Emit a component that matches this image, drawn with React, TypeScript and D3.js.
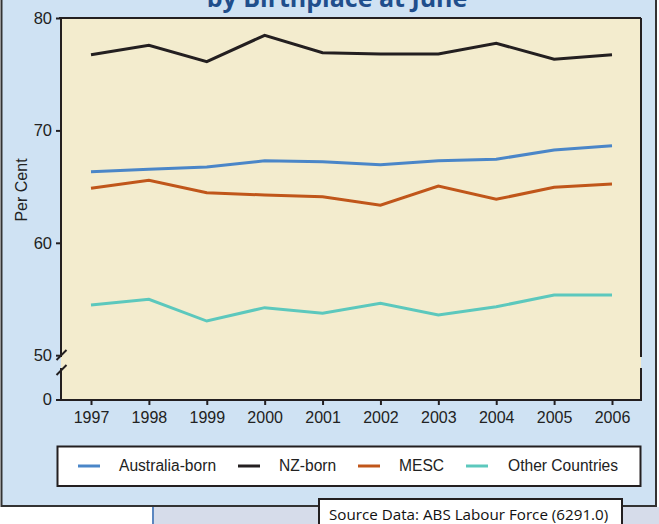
import React, { useEffect, useRef } from "react";
import * as d3 from "d3";

const years = ["1997", "1998", "1999", "2000", "2001", "2002", "2003", "2004", "2005", "2006"];
const australiaBorn = [66.33, 66.54, 66.74, 67.3, 67.21, 66.95, 67.3, 67.43, 68.26, 68.64];
const nzBorn = [76.73, 77.57, 76.11, 78.46, 76.91, 76.8, 76.8, 77.75, 76.33, 76.73];
const mesc = [64.85, 65.56, 64.46, 64.25, 64.1, 63.34, 65.05, 63.87, 64.94, 65.23];
const otherCountries = [54.47, 54.97, 53.04, 54.23, 53.73, 54.62, 53.58, 54.31, 55.36, 55.36];
const yTicks = [50, 60, 70, 80];
const seriesNames = ["Australia-born", "NZ-born", "MESC", "Other Countries"];
const seriesColors = ["#4a86c8", "#231f20", "#c0561a", "#5cc8bd"];
const title = "by Birthplace at June";
const yLabel = "Per Cent";
const sourceText = "Source Data: ABS Labour Force (6291.0)";

const W = 659;
const H = 524;
const FONT = "'Liberation Sans', Arial, sans-serif";
const DARK = "#231f20";

export default function App() {
  const ref = useRef<SVGSVGElement | null>(null);

  useEffect(() => {
    const svg = d3.select(ref.current);
    svg.selectAll("*").remove();

    const left = 61, right = 641, top = 18, bottom = 400;
    const x = d3.scalePoint<string>().domain(years).range([91, 612]);
    const y = d3.scaleLinear().domain([50, 80]).range([355.2, 18]);
    const breakTop = 357, breakBot = 368;

    // lower strip
    svg.append("rect").attr("x", 0).attr("y", 0).attr("width", W).attr("height", H).attr("fill", "#ffffff");
    svg.append("rect").attr("x", 154).attr("y", 507).attr("width", W - 154).attr("height", H - 507).attr("fill", "#d6dcea");
    svg.append("line").attr("x1", 153).attr("x2", 153).attr("y1", 507).attr("y2", H).attr("stroke", "#5b86c0").attr("stroke-width", 2);

    // outer panel
    svg.append("rect").attr("x", 1.5).attr("y", -5).attr("width", 654.5).attr("height", 511)
      .attr("fill", "#cfe2f3").attr("stroke", "#333").attr("stroke-width", 2);

    // title
    svg.append("text").attr("x", 337).attr("y", 7).attr("text-anchor", "middle")
      .attr("font-family", "'Open Sans', sans-serif").attr("font-weight", 700).attr("font-size", 25)
      .attr("fill", "#1f4e8c").text(title);

    // plot area
    svg.append("rect").attr("x", left).attr("y", top).attr("width", right - left).attr("height", bottom - top)
      .attr("fill", "#f3ecce");

    // borders
    const g = svg.append("g").attr("stroke", DARK).attr("stroke-width", 2).attr("fill", "none");
    g.append("line").attr("x1", 59).attr("x2", right).attr("y1", top).attr("y2", top);
    g.append("line").attr("x1", left).attr("x2", left).attr("y1", top).attr("y2", breakTop);
    g.append("line").attr("x1", left).attr("x2", left).attr("y1", breakBot).attr("y2", bottom);
    g.append("line").attr("x1", right).attr("x2", right).attr("y1", top).attr("y2", breakTop);
    g.append("line").attr("x1", right).attr("x2", right).attr("y1", breakBot).attr("y2", bottom + 1);
    g.append("line").attr("x1", 56).attr("x2", right + 1).attr("y1", bottom).attr("y2", bottom);
    // break slashes
    g.append("line").attr("x1", 56.5).attr("x2", 66.5).attr("y1", 360).attr("y2", 350);
    g.append("line").attr("x1", 56.5).attr("x2", 66.5).attr("y1", 375).attr("y2", 365);

    // y axis
    const yAxis = d3.axisLeft(y).tickValues(yTicks).tickSize(5).tickPadding(4).tickFormat(d3.format("d"));
    const ya = svg.append("g").attr("transform", `translate(${left},0)`).call(yAxis);
    ya.select(".domain").remove();
    ya.selectAll(".tick line").attr("stroke", DARK).attr("stroke-width", 2);
    ya.selectAll(".tick text").attr("font-family", FONT).attr("font-size", 16.5).attr("fill", "#222");
    // zero tick
    svg.append("text").attr("x", 52).attr("y", bottom).attr("dy", "0.32em").attr("text-anchor", "end")
      .attr("font-family", FONT).attr("font-size", 16.5).attr("fill", "#222").text("0");

    // x axis
    const xAxis = d3.axisBottom(x).tickSize(5).tickPadding(7);
    const xa = svg.append("g").attr("transform", `translate(0,${bottom})`).call(xAxis);
    xa.select(".domain").remove();
    xa.selectAll(".tick line").attr("stroke", DARK).attr("stroke-width", 2);
    xa.selectAll(".tick text").attr("font-family", FONT).attr("font-size", 16).attr("fill", "#222");

    // y label
    svg.append("text").attr("transform", `translate(27,190) rotate(-90)`).attr("text-anchor", "middle")
      .attr("font-family", FONT).attr("font-size", 16).attr("fill", "#222").text(yLabel);

    // lines
    const all = [australiaBorn, nzBorn, mesc, otherCountries];
    const line = d3.line<number>().x((_, i) => x(years[i]) as number).y((d) => y(d));
    all.forEach((vals, i) => {
      svg.append("path").datum(vals).attr("d", line).attr("fill", "none")
        .attr("stroke", seriesColors[i]).attr("stroke-width", 3).attr("stroke-linejoin", "miter");
    });

    // legend
    svg.append("rect").attr("x", 57.5).attr("y", 446.5).attr("width", 583).attr("height", 39.5)
      .attr("fill", "#ffffff").attr("stroke", DARK).attr("stroke-width", 2);
    const legendLineX = [78, 238, 358, 466];
    const legendTextX = [119, 279, 399, 508];
    seriesNames.forEach((name, i) => {
      svg.append("line").attr("x1", legendLineX[i]).attr("x2", legendLineX[i] + 22).attr("y1", 466).attr("y2", 466)
        .attr("stroke", seriesColors[i]).attr("stroke-width", 3);
      svg.append("text").attr("x", legendTextX[i]).attr("y", 466).attr("dy", "0.35em")
        .attr("font-family", FONT).attr("font-size", 15.6).attr("fill", "#222").text(name);
    });

    // source box
    svg.append("rect").attr("x", 319).attr("y", 499).attr("width", 303).attr("height", 30)
      .attr("fill", "#ffffff").attr("stroke", DARK).attr("stroke-width", 2);
    svg.append("text").attr("x", 329).attr("y", 520)
      .attr("font-family", "'Open Sans', sans-serif").attr("font-size", 15.2).attr("fill", "#111").text(sourceText);
  }, []);

  return (
    <svg ref={ref} width={W} height={H} style={{ position: "absolute", left: 0, top: 0 }} />
  );
}
